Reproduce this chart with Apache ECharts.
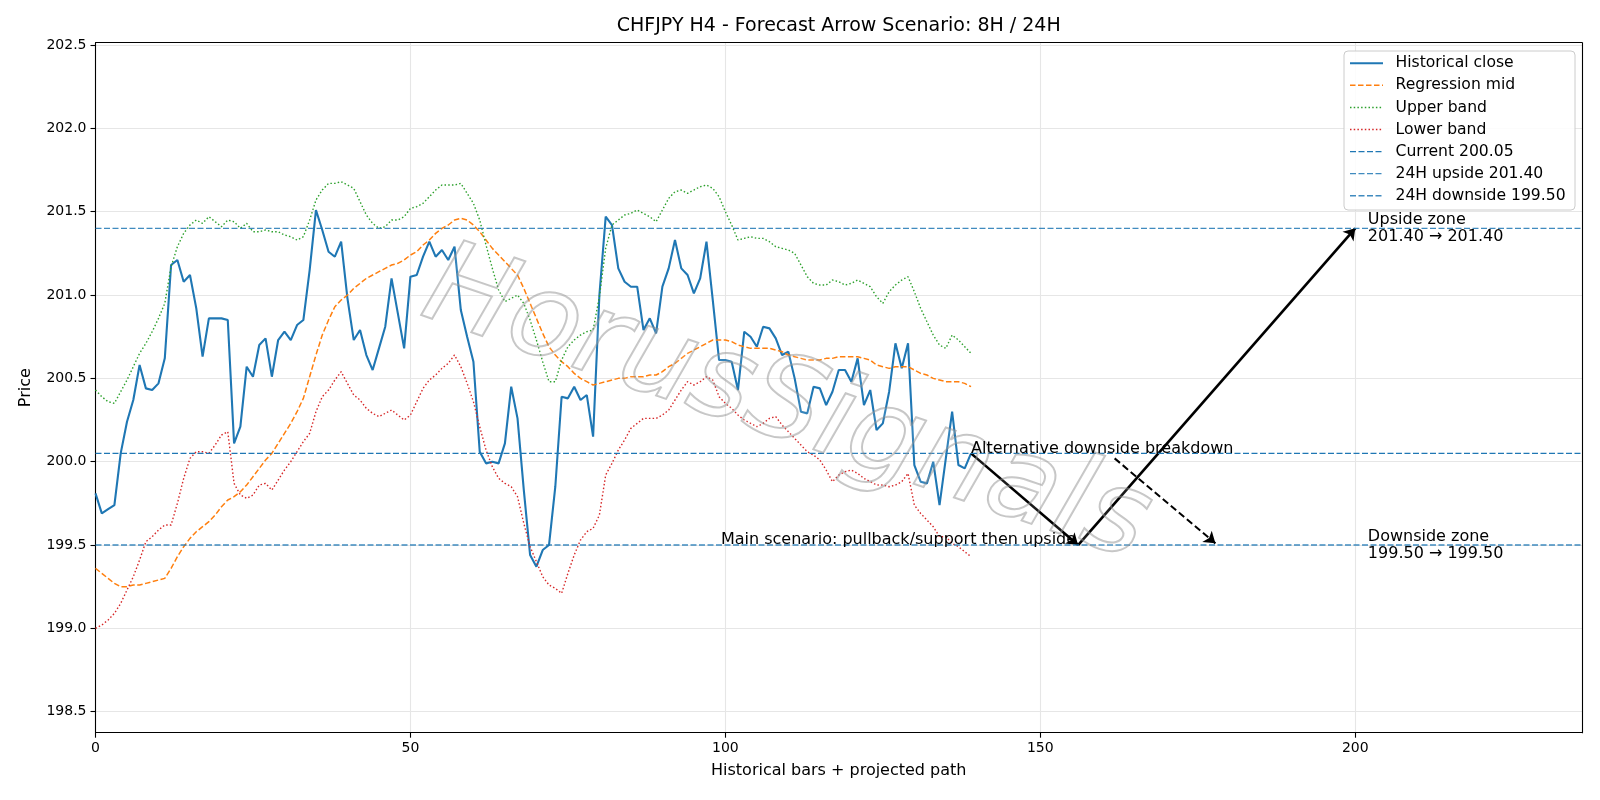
<!DOCTYPE html>
<html><head><meta charset="utf-8">
<script src="https://cdn.jsdelivr.net/npm/echarts@6/dist/echarts.min.js"></script>
<style>html,body{margin:0;padding:0;background:#fff}#c{width:1600px;height:800px}</style>
</head><body><div id="c"></div>
<script>
// ---------- data ----------
const closeVals = [199.81,199.69,199.715,199.74,200.05,200.24,200.37,200.58,200.44,200.43,
200.47,200.62,201.18,201.21,201.08,201.12,200.92,200.63,200.86,200.86,
200.86,200.85,200.11,200.21,200.57,200.51,200.70,200.74,200.51,200.73,
200.78,200.73,200.82,200.85,201.15,201.51,201.39,201.26,201.23,201.32,
200.98,200.73,200.79,200.64,200.55,200.68,200.81,201.10,200.89,200.68,
201.11,201.12,201.23,201.32,201.23,201.27,201.21,201.29,200.91,200.75,
200.60,200.06,199.99,200.00,199.99,200.11,200.45,200.26,199.83,199.44,
199.37,199.47,199.50,199.85,200.39,200.38,200.45,200.37,200.40,200.15,
201.00,201.47,201.42,201.16,201.08,201.05,201.05,200.79,200.86,200.77,
201.05,201.16,201.33,201.16,201.12,201.01,201.10,201.32,200.97,200.61,
200.61,200.60,200.43,200.78,200.75,200.69,200.81,200.80,200.74,200.64,
200.66,200.50,200.30,200.29,200.45,200.44,200.34,200.42,200.55,200.55,
200.48,200.62,200.34,200.43,200.19,200.23,200.42,200.71,200.56,200.71,
199.98,199.88,199.87,200.00,199.74,200.02,200.30,199.98,199.96,200.05];
const midVals = [199.36,199.33,199.30,199.27,199.25,199.25,199.26,199.26,199.27,199.28,
199.29,199.30,199.36,199.43,199.49,199.54,199.58,199.61,199.64,199.68,
199.73,199.77,199.79,199.82,199.86,199.91,199.96,200.01,200.05,200.11,
200.17,200.23,200.30,200.38,200.51,200.64,200.76,200.85,200.93,200.97,
201.00,201.04,201.07,201.10,201.12,201.14,201.16,201.18,201.19,201.21,
201.24,201.26,201.30,201.33,201.37,201.40,201.42,201.45,201.46,201.45,
201.42,201.38,201.33,201.28,201.24,201.20,201.16,201.12,201.04,200.95,
200.86,200.77,200.69,200.64,200.60,200.57,200.53,200.50,200.48,200.46,
200.47,200.48,200.49,200.50,200.50,200.51,200.51,200.51,200.52,200.52,
200.54,200.57,200.59,200.62,200.65,200.67,200.69,200.71,200.73,200.73,
200.73,200.72,200.70,200.69,200.68,200.68,200.68,200.68,200.67,200.66,
200.64,200.63,200.62,200.61,200.61,200.61,200.62,200.62,200.63,200.63,
200.63,200.63,200.62,200.61,200.58,200.57,200.56,200.57,200.57,200.57,
200.55,200.53,200.52,200.50,200.49,200.48,200.48,200.48,200.47,200.45];
const upperVals = [200.43,200.39,200.36,200.35,200.42,200.49,200.57,200.65,200.71,200.78,
200.86,200.95,201.17,201.29,201.37,201.42,201.45,201.43,201.47,201.44,
201.41,201.45,201.44,201.40,201.43,201.38,201.38,201.39,201.38,201.38,
201.36,201.35,201.33,201.35,201.45,201.57,201.63,201.67,201.67,201.68,
201.66,201.64,201.56,201.48,201.43,201.40,201.41,201.45,201.45,201.47,
201.52,201.53,201.55,201.59,201.63,201.66,201.66,201.66,201.67,201.61,
201.55,201.45,201.30,201.16,201.03,200.96,200.98,201.00,200.95,200.85,
200.73,200.60,200.48,200.48,200.61,200.69,200.73,200.76,200.78,200.79,
200.99,201.28,201.42,201.45,201.48,201.49,201.51,201.49,201.47,201.44,
201.51,201.58,201.62,201.63,201.61,201.63,201.65,201.66,201.64,201.59,
201.50,201.42,201.33,201.34,201.35,201.34,201.34,201.32,201.29,201.28,
201.27,201.25,201.18,201.11,201.07,201.06,201.06,201.09,201.08,201.06,
201.07,201.09,201.07,201.05,200.99,200.95,201.02,201.06,201.09,201.11,
201.02,200.92,200.84,200.76,200.70,200.68,200.76,200.73,200.69,200.65];
const lowerVals = [199.00,199.02,199.05,199.09,199.15,199.23,199.31,199.41,199.52,199.55,
199.59,199.62,199.62,199.75,199.90,200.02,200.06,200.06,200.05,200.10,
200.16,200.18,199.87,199.80,199.78,199.80,199.86,199.87,199.83,199.89,
199.95,200.00,200.06,200.12,200.17,200.30,200.39,200.43,200.49,200.54,
200.47,200.40,200.37,200.32,200.29,200.27,200.29,200.31,200.28,200.25,
200.28,200.36,200.44,200.49,200.52,200.56,200.59,200.64,200.57,200.47,
200.36,200.21,200.07,199.97,199.90,199.87,199.85,199.79,199.63,199.49,
199.40,199.31,199.26,199.24,199.21,199.33,199.44,199.53,199.58,199.60,
199.68,199.92,199.99,200.07,200.13,200.20,200.23,200.26,200.26,200.26,
200.28,200.31,200.37,200.43,200.48,200.46,200.48,200.51,200.49,200.39,
200.35,200.32,200.28,200.25,200.23,200.21,200.23,200.26,200.27,200.22,
200.18,200.14,200.10,200.06,200.04,200.01,199.95,199.88,199.92,199.94,
199.95,199.93,199.90,199.88,199.86,199.86,199.85,199.86,199.88,199.93,
199.74,199.69,199.65,199.61,199.55,199.55,199.51,199.49,199.46,199.43];

const currentLevel = 200.05;
const upsideLevel = 201.40;
const downsideLevel = 199.50;

const xMin = 0, xMax = 236;
const yMin = 198.374, yMax = 202.514;
const xTicks = [0, 50, 100, 150, 200];
const yTicks = [198.5, 199.0, 199.5, 200.0, 200.5, 201.0, 201.5, 202.0, 202.5];

// arrows [start, end] in data units
const arrowMainDown = [[139, 200.05], [156, 199.50]];
const arrowMainUp = [[156, 199.50], [200, 201.40]];
const arrowAlt = [[161.8, 200.02], [177.8, 199.51]];

// annotation anchors
const altTextPos = [139, 200.05];
const mainTextPos = [156, 199.50];
const upZonePos = [202, 201.40];
const downZonePos = [202, 199.50];

const titleText = 'CHFJPY H4 - Forecast Arrow Scenario: 8H / 24H';
const names = ['Historical close','Regression mid','Upper band','Lower band',
  'Current 200.05','24H upside 201.40','24H downside 199.50'];

// ---------- styles ----------
const FONT = 'DejaVu Sans';
const FS = 16;
const LFS = 15.6;
const styles = [
  {color: '#1f77b4', width: 2.1, type: 'solid', opacity: 1},
  {color: '#ff7f0e', width: 1.5, type: [5.5, 2.5], opacity: 1},
  {color: '#2ca02c', width: 1.4, type: [1.5, 2.2], opacity: 1},
  {color: '#d62728', width: 1.4, type: [1.5, 2.2], opacity: 1},
  {color: '#1f77b4', width: 1.4, type: [6, 2.5], opacity: 1},
  {color: '#1f77b4', width: 1.4, type: [6, 2.5], opacity: 0.85},
  {color: '#1f77b4', width: 1.4, type: [6, 2.5], opacity: 0.85}
];
const seriesData = [closeVals, midVals, upperVals, lowerVals];
const levels = [currentLevel, upsideLevel, downsideLevel];

const toXY = arr => arr.map((v, i) => [i, v]);
const hline = v => [[xMin, v], [xMax, v]];

const chart = echarts.init(document.getElementById('c'), null, {renderer: 'canvas'});

const axisCommon = {
  axisLine: {show: true, onZero: false, lineStyle: {color: '#000', width: 1.1}},
  axisTick: {show: true, inside: false, length: 5, lineStyle: {color: '#000', width: 1.1}},
  splitLine: {show: true, lineStyle: {color: '#e6e6e6', width: 1.1}},
  axisLabel: {color: '#000', fontFamily: FONT, fontSize: 14, margin: 9}
};

const series = [];
seriesData.forEach((arr, k) => series.push({
  name: names[k], type: 'line', data: toXY(arr), showSymbol: false, symbol: 'none',
  lineStyle: styles[k], itemStyle: {color: styles[k].color}, z: k === 0 ? 3 : 4
}));
levels.forEach((v, k) => series.push({
  name: names[4 + k], type: 'line', data: hline(v), showSymbol: false, symbol: 'none',
  lineStyle: styles[4 + k], itemStyle: {color: styles[4 + k].color}, z: 5
}));
series.push({name: 'arrows', type: 'line', data: [], z: 6,
  markLine: {
    silent: true, animation: false, symbol: ['none', 'arrow'], symbolSize: 11,
    label: {show: false}, emphasis: {disabled: true},
    data: [
      [{coord: arrowMainDown[0], lineStyle: {color: '#000', width: 2.6, type: 'solid'}}, {coord: arrowMainDown[1]}],
      [{coord: arrowMainUp[0], lineStyle: {color: '#000', width: 2.6, type: 'solid'}}, {coord: arrowMainUp[1]}],
      [{coord: arrowAlt[0], lineStyle: {color: '#000', width: 2, type: [7, 3.5]}}, {coord: arrowAlt[1]}]
    ]
  }});

const option = {
  animation: false,
  backgroundColor: '#fff',
  textStyle: {fontFamily: FONT},
  grid: {left: 95.5, right: 18, top: 42.7, bottom: 67.3, containLabel: false},
  xAxis: [
    Object.assign({}, axisCommon, {
      type: 'value', min: xMin, max: xMax, position: 'bottom',
      name: 'Historical bars + projected path', nameLocation: 'middle', nameGap: 30,
      nameTextStyle: {fontFamily: FONT, fontSize: FS, color: '#000'},
      axisTick: Object.assign({}, axisCommon.axisTick, {customValues: xTicks}),
      axisLabel: Object.assign({}, axisCommon.axisLabel, {customValues: xTicks, formatter: v => String(Math.round(v))})
    }),
    {type: 'value', min: xMin, max: xMax, position: 'top',
     axisLine: {show: true, onZero: false, lineStyle: {color: '#000', width: 1.1}},
     axisTick: {show: false}, axisLabel: {show: false}, splitLine: {show: false}}
  ],
  yAxis: [
    Object.assign({}, axisCommon, {
      type: 'value', min: yMin, max: yMax, position: 'left',
      name: 'Price', nameLocation: 'middle', nameGap: 62, nameRotate: 90,
      nameTextStyle: {fontFamily: FONT, fontSize: FS, color: '#000'},
      axisTick: Object.assign({}, axisCommon.axisTick, {customValues: yTicks}),
      axisLabel: Object.assign({}, axisCommon.axisLabel, {customValues: yTicks, formatter: v => v.toFixed(1)})
    }),
    {type: 'value', min: yMin, max: yMax, position: 'right',
     axisLine: {show: true, onZero: false, lineStyle: {color: '#000', width: 1.1}},
     axisTick: {show: false}, axisLabel: {show: false}, splitLine: {show: false}}
  ],
  series: series
};
chart.setOption(option);

function px(p) { return chart.convertToPixel({xAxisIndex: 0, yAxisIndex: 0}, p); }
const aPt = px(altTextPos), mPt = px(mainTextPos), uPt = px(upZonePos), dPt = px(downZonePos);
const gridRect = chart.getModel().getComponent('grid').coordinateSystem.getRect();
const tStyle = {font: FS + 'px "DejaVu Sans"', fill: '#000'};
const lStyle = {font: LFS + 'px "DejaVu Sans"', fill: '#000'};

// legend (drawn manually, matplotlib style box)
const LG = {left: 1344, top: 51, width: 231, height: 159, rowTop: 63.3, rowStep: 22.07,
            lineX0: 1350, lineX1: 1383, textX: 1395.5};
const legendEls = [{type: 'rect', z: 60, shape: {x: LG.left, y: LG.top, width: LG.width, height: LG.height, r: 4},
  style: {fill: 'rgba(255,255,255,0.85)', stroke: '#cccccc', lineWidth: 1}}];
names.forEach((n, k) => {
  const y = LG.rowTop + k * LG.rowStep;
  const st = styles[k];
  legendEls.push({type: 'line', z: 61, shape: {x1: LG.lineX0, y1: y, x2: LG.lineX1, y2: y},
    style: {stroke: st.color, lineWidth: st.width, lineDash: st.type === 'solid' ? null : st.type, opacity: st.opacity}});
  legendEls.push({type: 'text', z: 61, x: LG.textX, y: y,
    style: Object.assign({text: n, align: 'left', verticalAlign: 'middle'}, lStyle)});
});

chart.setOption({
  graphic: legendEls.concat([
    {type: 'text', z: 50, x: gridRect.x + gridRect.width / 2, y: 26,
     style: {text: titleText, font: '19px "DejaVu Sans"', fill: '#000', align: 'center', verticalAlign: 'middle'}},
    {type: 'text', z: 50, x: aPt[0], y: aPt[1] + 3,
     style: Object.assign({text: 'Alternative downside breakdown', align: 'left', verticalAlign: 'bottom'}, tStyle)},
    {type: 'text', z: 50, x: mPt[0] - 2, y: mPt[1] + 3,
     style: Object.assign({text: 'Main scenario: pullback/support then upside', align: 'right', verticalAlign: 'bottom'}, tStyle)},
    {type: 'text', z: 50, x: uPt[0], y: uPt[1],
     style: Object.assign({text: 'Upside zone\n201.40 \u2192 201.40', align: 'left', verticalAlign: 'middle', lineHeight: 17}, tStyle)},
    {type: 'text', z: 50, x: dPt[0], y: dPt[1],
     style: Object.assign({text: 'Downside zone\n199.50 \u2192 199.50', align: 'left', verticalAlign: 'middle', lineHeight: 17}, tStyle)},
    {type: 'text', z: 40, x: 786, y: 408, rotation: -0.33, silent: true,
     style: {text: 'HorusSignals', font: 'italic 200 116px "DejaVu Sans"', align: 'center', verticalAlign: 'middle',
             fill: 'rgba(255,255,255,0.1)', stroke: 'rgba(140,140,140,0.5)', lineWidth: 2}}
  ])
});
</script></body></html>
